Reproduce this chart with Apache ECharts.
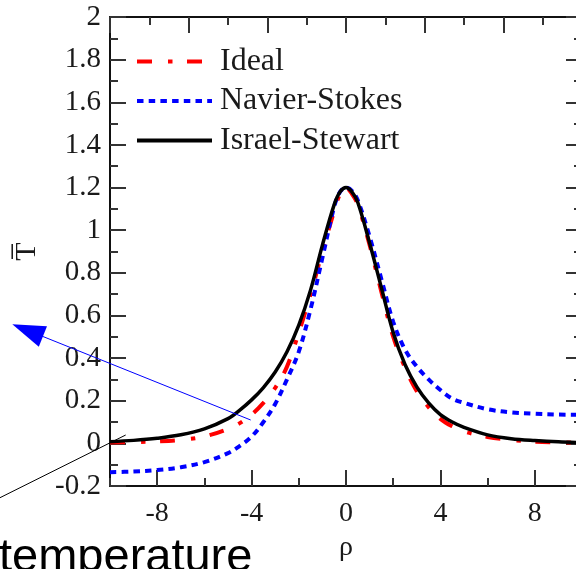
<!DOCTYPE html>
<html>
<head>
<meta charset="utf-8">
<script src="https://cdn.jsdelivr.net/npm/echarts@6/dist/echarts.min.js"></script>
<style>
  html, body { margin: 0; padding: 0; background: #fff; }
  #chart { width: 576px; height: 569px; }
</style>
</head>
<body>
<div id="chart"></div>
<script>
// Transverse coordinate rho
const rho = [-10, -9, -8, -7, -6, -5, -4.5, -4, -3.5, -3, -2.5, -2, -1.5, -1, -0.5, -0.25, 0,
             0.25, 0.5, 1, 1.5, 2, 2.5, 3, 3.5, 4, 4.5, 5, 6, 7, 8, 9, 10];

// Scaled temperature profiles T-bar(rho)
const ideal = [0.004, 0.006, 0.009, 0.016, 0.032, 0.068, 0.095, 0.135, 0.19, 0.26, 0.36, 0.52, 0.70, 0.90, 1.09, 1.17, 1.2,
               1.17, 1.12, 0.93, 0.71, 0.50, 0.355, 0.245, 0.17, 0.115, 0.08, 0.056, 0.03, 0.016, 0.008, 0.005, 0.003];
const navierStokes = [-0.135, -0.132, -0.125, -0.112, -0.088, -0.046, -0.012, 0.032, 0.10, 0.185, 0.30, 0.43, 0.63, 0.87, 1.11, 1.18, 1.2,
                      1.185, 1.14, 0.97, 0.77, 0.57, 0.44, 0.36, 0.30, 0.25, 0.21, 0.19, 0.16, 0.145, 0.139, 0.135, 0.134];
const israelStewart = [0.008, 0.014, 0.024, 0.040, 0.068, 0.116, 0.156, 0.204, 0.262, 0.335, 0.43, 0.555, 0.72, 0.93, 1.12, 1.18, 1.2,
                       1.18, 1.13, 0.94, 0.73, 0.52, 0.37, 0.265, 0.19, 0.135, 0.10, 0.075, 0.040, 0.022, 0.013, 0.007, 0.004];

// Axis ranges
const rhoMin = -10, rhoMax = 10;
const rhoLabelStart = -8;   // first labelled rho tick
const rhoMajorStep = 4, rhoMinorStep = 2;
const tMin = -0.2, tMax = 2, tStep = 0.2;

const pairs = ys => rho.map((x, i) => [x, ys[i]]);

const serif = '"Liberation Serif", "Times New Roman", serif';
const axisLineStyle = { color: '#111', width: 2 };
const tickStyle = { color: '#333', width: 2 };

// plot frame in pixels (the right edge lies just past the canvas)
const plotLeft = 110, plotRight = 582, plotTop = 17, plotBottom = 486;
const plotWidth = plotRight - plotLeft, plotHeight = plotBottom - plotTop;
const pxPerRho = plotWidth / (rhoMax - rhoMin);
const labelGridLeft = plotLeft + (rhoLabelStart - rhoMin) * pxPerRho;

const chart = echarts.init(document.getElementById('chart'), null, { renderer: 'canvas' });

const lineSeries = (name, ys, color, width, type, z) => ({
  name, type: 'line', xAxisIndex: 0, yAxisIndex: 0,
  data: pairs(ys), smooth: 0.35, symbol: 'none', z,
  color,
  lineStyle: { color, width, type }
});

chart.setOption({
  backgroundColor: '#fff',
  animation: false,
  grid: [
    { left: plotLeft, top: plotTop, width: plotWidth, height: plotHeight, containLabel: false, outerBoundsMode: 'none' },
    // same frame, starting at the first labelled tick, carries the long ticks and labels
    { left: labelGridLeft, top: plotTop, width: plotRight - labelGridLeft, height: plotHeight, containLabel: false, outerBoundsMode: 'none' }
  ],
  legend: {
    orient: 'vertical',
    left: 135,
    top: 44.5,
    padding: 0,
    itemWidth: 75,
    itemHeight: 14,
    itemGap: 5.5,
    itemStyle: { opacity: 0 },
    lineStyle: { width: 4 },
    textStyle: { fontFamily: serif, fontSize: 32, color: '#1a1a1a', lineHeight: 34, padding: [0, 0, 0, 3] },
    data: ['Ideal', 'Navier-Stokes', 'Israel-Stewart']
  },
  xAxis: [
    {
      gridIndex: 0, type: 'value', position: 'bottom', min: rhoMin, max: rhoMax, interval: rhoMinorStep,
      name: 'ρ', nameLocation: 'middle', nameGap: 48,
      nameTextStyle: { fontFamily: serif, fontSize: 28, color: '#1a1a1a' },
      axisLine: { show: true, onZero: false, lineStyle: axisLineStyle },
      axisTick: { show: true, inside: true, length: 8, lineStyle: tickStyle },
      axisLabel: { show: false },
      splitLine: { show: false }
    },
    {
      gridIndex: 0, type: 'value', position: 'top', min: -3, max: 3, interval: 1,
      axisLine: { show: true, onZero: false, lineStyle: axisLineStyle },
      axisTick: { show: true, inside: true, length: 16, lineStyle: tickStyle },
      minorTick: { show: true, splitNumber: 2, length: 8, lineStyle: tickStyle },
      axisLabel: { show: false },
      splitLine: { show: false }
    },
    {
      gridIndex: 1, type: 'value', position: 'bottom', min: rhoLabelStart, max: rhoMax, interval: rhoMajorStep,
      axisLine: { show: false, onZero: false },
      axisTick: { show: true, inside: true, length: 16, lineStyle: tickStyle },
      axisLabel: {
        show: true, margin: 14, fontFamily: serif, fontSize: 28, color: '#1a1a1a',
        formatter: v => (v >= rhoMax ? '' : String(v))
      },
      splitLine: { show: false }
    }
  ],
  yAxis: [
    {
      gridIndex: 0, type: 'value', position: 'left', min: tMin, max: tMax, interval: tStep,
      name: 'T\u0305', nameLocation: 'middle', nameGap: 68, nameRotate: 90,
      nameTextStyle: { fontFamily: serif, fontSize: 30, color: '#1a1a1a' },
      axisLine: { show: true, onZero: false, lineStyle: axisLineStyle },
      axisTick: { show: true, inside: true, length: 16, lineStyle: tickStyle },
      minorTick: { show: true, splitNumber: 2, length: 8, lineStyle: tickStyle },
      axisLabel: {
        show: true, margin: 9, fontFamily: serif, fontSize: 29, color: '#1a1a1a',
        formatter: v => String(+v.toFixed(1))
      },
      splitLine: { show: false }
    },
    {
      gridIndex: 0, type: 'value', position: 'right', min: tMin, max: tMax, interval: tStep,
      axisLine: { show: true, onZero: false, lineStyle: axisLineStyle },
      axisTick: { show: true, inside: true, length: 16, lineStyle: tickStyle },
      minorTick: { show: true, splitNumber: 2, length: 8, lineStyle: tickStyle },
      axisLabel: { show: false },
      splitLine: { show: false }
    },
    {
      gridIndex: 1, type: 'value', min: tMin, max: tMax, show: false
    }
  ],
  series: [
    lineSeries('Ideal', ideal, '#ff0000', 4, [15, 16, 4.5, 14.5], 3),
    lineSeries('Navier-Stokes', navierStokes, '#0000ff', 4, [6.5, 5.2], 4),
    lineSeries('Israel-Stewart', israelStewart, '#000000', 3.5, 'solid', 5)
  ],
  graphic: [
    // annotation arrows and caption
    {
      type: 'line', z: 100, silent: true,
      shape: { x1: 250.7, y1: 420, x2: 30, y2: 331.3 },
      style: { stroke: '#0000ff', lineWidth: 1 }
    },
    {
      type: 'polygon', z: 100, silent: true,
      shape: { points: [[12.3, 324.3], [47, 326.3], [38.8, 346.8]] },
      style: { fill: '#0000ff' }
    },
    {
      type: 'line', z: 100, silent: true,
      shape: { x1: -2, y1: 498.7, x2: 125.7, y2: 435 },
      style: { stroke: '#000', lineWidth: 1 }
    },
    {
      type: 'text', z: 100, silent: true,
      x: -1, y: 558,
      style: {
        text: 'temperature',
        font: '47px "Liberation Sans", Arial, sans-serif',
        fill: '#000',
        align: 'left',
        verticalAlign: 'middle'
      }
    }
  ]
});
</script>
</body>
</html>
